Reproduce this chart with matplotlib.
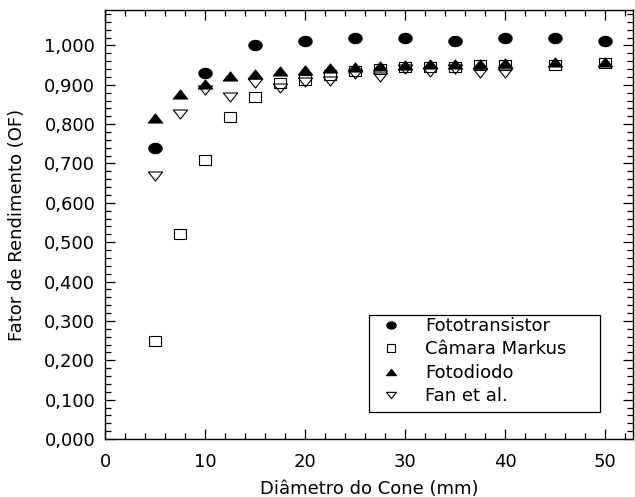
import numpy as np
import matplotlib
matplotlib.use("Agg")
import matplotlib.pyplot as plt
from matplotlib.path import Path
from matplotlib.patches import Rectangle
from matplotlib.ticker import MultipleLocator, FuncFormatter

plt.rcParams['font.family'] = ['DejaVu Sans']

x_foto = [5, 10, 15, 20, 25, 30, 35, 40, 45, 50]
y_foto = [0.740, 0.930, 1.000, 1.010, 1.020, 1.020, 1.010, 1.020, 1.020, 1.010]

x_all = [5, 7.5, 10, 12.5, 15, 17.5, 20, 22.5, 25, 27.5, 30, 32.5, 35, 37.5, 40, 45, 50]
y_markus = [0.250, 0.520, 0.710, 0.818, 0.869, 0.904, 0.913, 0.924, 0.935, 0.940,
            0.945, 0.945, 0.945, 0.950, 0.950, 0.950, 0.955]
y_diodo = [0.815, 0.877, 0.902, 0.922, 0.928, 0.935, 0.938, 0.942, 0.945, 0.947,
           0.950, 0.952, 0.954, 0.953, 0.955, 0.958, 0.958]

x_fan = [5, 7.5, 10, 12.5, 15, 17.5, 20, 22.5, 25, 27.5, 30, 32.5, 35, 37.5, 40]
y_fan = [0.667, 0.827, 0.887, 0.870, 0.905, 0.893, 0.908, 0.910, 0.928, 0.921,
         0.940, 0.932, 0.940, 0.929, 0.930]

labels = ["Fototransistor", "Câmara Markus", "Fotodiodo", "Fan et al."]

# marker shapes (slightly wide, as in the original)
t = np.linspace(0, 2 * np.pi, 60)
ellipse = Path(np.column_stack([np.cos(t), 0.77 * np.sin(t)]), closed=True)
square = Path([(-1, -0.81), (1, -0.81), (1, 0.81), (-1, 0.81), (-1, -0.81)], closed=True)
tri_up = Path([(0, 0.63), (-1, -0.63), (1, -0.63), (0, 0.63)], closed=True)
tri_dn = Path([(0, -0.63), (-1, 0.63), (1, 0.63), (0, -0.63)], closed=True)

FS = 13

fig = plt.figure(figsize=(6.35, 4.97), dpi=100)
ax = fig.add_axes([105 / 635, 58 / 497, 528 / 635, 429 / 497])

mew = 0.8
ax.plot(x_foto, y_foto, linestyle='none', marker=ellipse, ms=9.6,
        mfc='black', mec='black', mew=mew, label=labels[0])
ax.plot(x_all, y_markus, linestyle='none', marker=square, ms=8.9,
        mfc='none', mec='black', mew=mew, label=labels[1])
ax.plot(x_all, y_diodo, linestyle='none', marker=tri_up, ms=10.3,
        mfc='black', mec='black', mew=mew, label=labels[2])
ax.plot(x_fan, y_fan, linestyle='none', marker=tri_dn, ms=10.3,
        mfc='none', mec='black', mew=mew, label=labels[3])

ax.set_xlim(0, 52.8)
ax.set_ylim(0, 1.09)
ax.xaxis.set_major_locator(MultipleLocator(10))
ax.xaxis.set_minor_locator(MultipleLocator(2))
ax.yaxis.set_major_locator(MultipleLocator(0.1))
ax.yaxis.set_minor_locator(MultipleLocator(0.02))
ax.yaxis.set_major_formatter(FuncFormatter(lambda v, p: f"{v:.3f}".replace('.', ',')))

ax.tick_params(which='both', direction='in', top=True, right=True,
               labelsize=FS, width=0.9, colors='black')
ax.tick_params(which='major', length=7.5)
ax.tick_params(which='minor', length=4)
ax.tick_params(axis='y', which='major', pad=7)
ax.tick_params(axis='x', which='major', pad=10)
for s in ax.spines.values():
    s.set_linewidth(1.0)

ax.set_xlabel("Diâmetro do Cone (mm)", fontsize=FS, va='center')
ax.set_ylabel("Fator de Rendimento (OF)", fontsize=FS, va='center')
ax.xaxis.set_label_coords(0.5, (439 - 489) / 429)
ax.yaxis.set_label_coords((17 - 105) / 528, 0.5)

# legend box
ax.add_patch(Rectangle((0.5, 0.063), 0.4375, 0.226, transform=ax.transAxes,
                       fill=False, edgecolor='black', linewidth=0.9, zorder=5))
leg = ax.legend(loc='upper left', bbox_to_anchor=(0.5237, 0.2844), borderaxespad=0,
                frameon=False, fontsize=FS, labelspacing=0.3, markerscale=0.7,
                handlelength=1.0, handletextpad=1.4, borderpad=0)

fig.savefig("out.png", dpi=100)
